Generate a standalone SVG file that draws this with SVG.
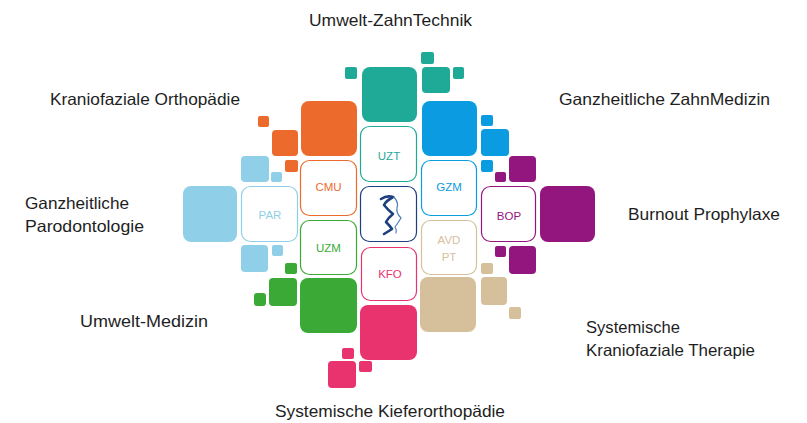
<svg xmlns="http://www.w3.org/2000/svg" width="807" height="423" viewBox="0 0 807 423">
<style>
.lbl{font-family:"Liberation Sans",Arial,sans-serif;font-size:16.5px;fill:#1e1e1e}
.in{font-family:"Liberation Sans",Arial,sans-serif;font-size:11.5px;text-anchor:middle}
.o{fill:#fff;stroke-width:1.2}
.teal{fill:#1fa997}.orange{fill:#ec6a2c}.blue{fill:#0a9be0}.purple{fill:#93167f}
.lblue{fill:#8fd0e8}.green{fill:#3aa935}.tan{fill:#d6c09c}.pink{fill:#e8336e}
</style>
<rect width="807" height="423" fill="#fff"/>
<g id="connectors"></g>

<g id="labels">
<text class="lbl" x="309" y="26" textLength="163" lengthAdjust="spacingAndGlyphs">Umwelt-ZahnTechnik</text>
<text class="lbl" x="50" y="105" textLength="190" lengthAdjust="spacingAndGlyphs">Kraniofaziale Orthopädie</text>
<text class="lbl" x="559" y="105" textLength="211" lengthAdjust="spacingAndGlyphs">Ganzheitliche ZahnMedizin</text>
<text class="lbl" x="25" y="209" textLength="104" lengthAdjust="spacingAndGlyphs">Ganzheitliche</text>
<text class="lbl" x="25" y="232" textLength="119" lengthAdjust="spacingAndGlyphs">Parodontologie</text>
<text class="lbl" x="628" y="220" textLength="152" lengthAdjust="spacingAndGlyphs">Burnout Prophylaxe</text>
<text class="lbl" x="80" y="327" textLength="128" lengthAdjust="spacingAndGlyphs">Umwelt-Medizin</text>
<text class="lbl" x="586" y="333" textLength="94" lengthAdjust="spacingAndGlyphs">Systemische</text>
<text class="lbl" x="586" y="356" textLength="169" lengthAdjust="spacingAndGlyphs">Kraniofaziale Therapie</text>
<text class="lbl" x="275" y="417" textLength="230" lengthAdjust="spacingAndGlyphs">Systemische Kieferorthopädie</text>
</g>

<g id="node-UZT">
<rect class="teal" x="362" y="67" width="55" height="55" rx="8"/>
<rect class="teal" x="345" y="67" width="12" height="12" rx="2"/>
<rect class="teal" x="421" y="52" width="13" height="12" rx="2"/>
<rect class="teal" x="422" y="67" width="28" height="26" rx="4"/>
<rect class="teal" x="453" y="67" width="11" height="12" rx="2"/>
<rect class="o" x="360.5" y="126.5" width="56" height="55" rx="9" stroke="#1fa997"/>
<text class="in" x="389" y="160" fill="#1fa997">UZT</text>
</g>

<g id="node-CMU">
<rect class="orange" x="301" y="101" width="56" height="55" rx="8"/>
<rect class="orange" x="272" y="130" width="26" height="26" rx="4"/>
<rect class="orange" x="258" y="116" width="11" height="11" rx="2"/>
<rect class="orange" x="285" y="160" width="13" height="12" rx="2"/>
<rect class="o" x="300.5" y="160.5" width="56" height="55" rx="9" stroke="#ec6a2c"/>
<text class="in" x="328.5" y="191" fill="#ec6a2c">CMU</text>
</g>

<g id="node-GZM">
<rect class="blue" x="422" y="101" width="55" height="55" rx="8"/>
<rect class="blue" x="481" y="115" width="12" height="11" rx="2"/>
<rect class="blue" x="481" y="129" width="28" height="27" rx="4"/>
<rect class="blue" x="481" y="160" width="12" height="12" rx="2"/>
<rect class="o" x="421.5" y="160.5" width="55" height="55" rx="9" stroke="#0a9be0"/>
<text class="in" x="449" y="191" fill="#0a9be0">GZM</text>
</g>

<g id="node-BOP">
<rect class="purple" x="495" y="172" width="11" height="10" rx="2"/>
<rect class="purple" x="509" y="156" width="27" height="26" rx="4"/>
<rect class="purple" x="540" y="186" width="55" height="56" rx="8"/>
<rect class="purple" x="509" y="246" width="27" height="28" rx="4"/>
<rect class="purple" x="495" y="246" width="11" height="11" rx="2"/>
<rect class="o" x="481.5" y="186.5" width="54" height="55" rx="9" stroke="#93167f"/>
<text class="in" x="509" y="220" fill="#93167f">BOP</text>
</g>

<g id="node-PAR">
<rect class="lblue" x="241" y="156" width="28" height="26" rx="4"/>
<rect class="lblue" x="271" y="172" width="11" height="10" rx="2"/>
<rect class="lblue" x="183" y="186" width="54" height="56" rx="8"/>
<rect class="lblue" x="241" y="245" width="27" height="27" rx="4"/>
<rect class="lblue" x="272" y="245" width="11" height="11" rx="2"/>
<rect class="o" x="241.5" y="186.5" width="56" height="55" rx="9" stroke="#8fd0e8"/>
<text class="in" x="270" y="219" fill="#8fd0e8">PAR</text>
</g>

<g id="node-UZM">
<rect class="green" x="285" y="263" width="12" height="11" rx="2"/>
<rect class="green" x="300" y="278" width="57" height="55" rx="8"/>
<rect class="green" x="269" y="278" width="28" height="28" rx="4"/>
<rect class="green" x="254" y="293" width="12" height="13" rx="3"/>
<rect class="o" x="300.5" y="220.5" width="56" height="54" rx="9" stroke="#3aa935"/>
<text class="in" x="328.5" y="252" fill="#3aa935">UZM</text>
</g>

<g id="node-AVD">
<rect class="tan" x="481" y="263" width="12" height="11" rx="2"/>
<rect class="tan" x="420" y="277" width="56" height="55" rx="8"/>
<rect class="tan" x="481" y="277" width="26" height="28" rx="4"/>
<rect class="tan" x="509" y="307" width="12" height="12" rx="2"/>
<rect class="o" x="421.5" y="220.5" width="55" height="54" rx="9" stroke="#d6c09c"/>
<text class="in" x="449" y="244" fill="#d6c09c">AVD</text>
<text class="in" x="449" y="261" fill="#d6c09c">PT</text>
</g>

<g id="node-KFO">
<rect class="pink" x="360" y="305" width="57" height="55" rx="8"/>
<rect class="pink" x="342" y="348" width="12" height="11" rx="2"/>
<rect class="pink" x="328" y="361" width="28" height="27" rx="4"/>
<rect class="pink" x="359" y="361" width="13" height="11" rx="2"/>
<rect class="o" x="361.5" y="247.5" width="55" height="53" rx="9" stroke="#e8336e"/>
<text class="in" x="390" y="278" fill="#e8336e">KFO</text>
</g>

<g id="node-center">
<rect class="o" x="360.5" y="186.5" width="56" height="55" rx="9" stroke="#1d3f7e" stroke-width="1.5"/>
<path d="M381 199 Q387 195 393 197 Q386 201 384 205 Q388 210 393 214 Q388 218 386 222 Q390 226 392 229 Q389 231 384 234" fill="none" stroke="#1d3f7e" stroke-width="2.6" stroke-linecap="round" stroke-linejoin="round"/>
<path d="M394 197 Q399 203 397 208 Q396 213 401 218 Q398 223 395 227 Q397 230 396 233" fill="none" stroke="#4f7fb8" stroke-width="1.2" stroke-linecap="round"/>
</g>
</svg>
